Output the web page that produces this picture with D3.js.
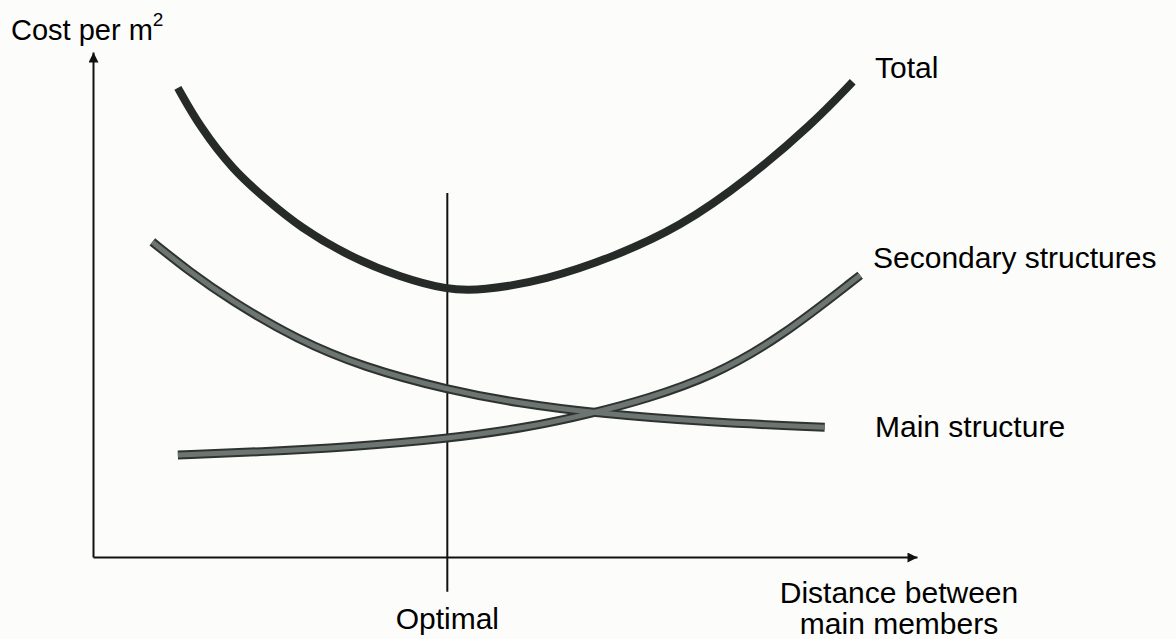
<!DOCTYPE html>
<html>
<head>
<meta charset="utf-8">
<script src="https://cdn.jsdelivr.net/npm/d3@7"></script>
<style>
  body { margin: 0; background: #fcfcfb; }
  svg { display: block; font-family: "Liberation Sans", Arial, sans-serif; }
</style>
</head>
<body>
<svg id="drawing_region"></svg>
<script>
// values, in axis units (0..100 on both axes)
var total = [
    [10.3, 92.9], [13.0, 85.1], [17.0, 76.6], [21.1, 70.7], [25.1, 65.3],
    [31.2, 59.4], [37.3, 55.4], [43.0, 52.9], [47.0, 52.7], [55.1, 54.9],
    [63.1, 59.4], [71.2, 65.3], [79.4, 74.7], [87.4, 85.9], [92.2, 94.1]
];
var main_structure = [
    [7.2, 62.4], [11.8, 56.4], [16.6, 50.9], [24.8, 43.0], [32.8, 37.6],
    [43.0, 33.1], [51.8, 30.4], [60.7, 28.5], [75.2, 26.6], [88.8, 25.7]
];
var secondary = [
    [10.3, 20.2], [20.3, 20.8], [31.2, 21.8], [43.0, 23.4], [53.0, 25.7],
    [60.7, 28.5], [67.2, 31.3], [75.2, 35.8], [83.4, 43.4], [93.1, 55.8]
];
var optimal_x = 43.0;
var optimal_span = [-6.9, 72.1];

var labels = [
    {text: 'Total', x: 875, y: 78},
    {text: 'Secondary structures', x: 873, y: 268},
    {text: 'Main structure', x: 875, y: 437}
];

const width = 1176, height = 639;

const svg = d3.select('#drawing_region')
    .attr('width', width)
    .attr('height', height);

const xscale = d3.scaleLinear().domain([0, 100]).range([93, 917]);
const yscale = d3.scaleLinear().domain([0, 100]).range([557, 52]);

// arrow heads
const defs = svg.append('defs');
defs.append('marker')
    .attr('id', 'arrow')
    .attr('viewBox', '0 0 10 10')
    .attr('refX', 10).attr('refY', 5)
    .attr('markerUnits', 'userSpaceOnUse')
    .attr('markerWidth', 16).attr('markerHeight', 10)
    .attr('orient', 'auto')
    .append('path')
    .attr('d', 'M0,0L10,5L0,10Z')
    .attr('fill', '#111');

// axes (no ticks, just the arrowed lines)
const yaxis = d3.axisLeft(yscale).tickValues([]).tickSizeOuter(0);
const xaxis = d3.axisBottom(xscale).tickValues([]).tickSizeOuter(0);

const yg = svg.append('g').attr('transform', `translate(${xscale(0)},0)`).call(yaxis);
const xg = svg.append('g').attr('transform', `translate(0,${yscale(0)})`).call(xaxis);
yg.select('.domain').attr('stroke', '#111').attr('stroke-width', 2).attr('marker-end', 'url(#arrow)');
xg.select('.domain').attr('stroke', '#111').attr('stroke-width', 2).attr('marker-end', 'url(#arrow)');

// optimal line
svg.append('line')
    .attr('x1', xscale(optimal_x)).attr('x2', xscale(optimal_x))
    .attr('y1', yscale(optimal_span[1])).attr('y2', yscale(optimal_span[0]))
    .attr('stroke', '#111')
    .attr('stroke-width', 2);

// basis spline smooths out the reading noise
const line = d3.line()
    .x(d => xscale(d[0]))
    .y(d => yscale(d[1]))
    .curve(d3.curveBasis);

// grey curves: dark outline + grey core
[main_structure, secondary].forEach(function(s) {
    svg.append('path').attr('d', line(s))
        .attr('fill', 'none').attr('stroke', '#2e3331')
        .attr('stroke-width', 9).attr('stroke-linecap', 'butt');
});
[main_structure, secondary].forEach(function(s) {
    svg.append('path').attr('d', line(s))
        .attr('fill', 'none').attr('stroke', '#6c7572')
        .attr('stroke-width', 5).attr('stroke-linecap', 'butt');
});

svg.append('path').attr('d', line(total))
    .attr('fill', 'none').attr('stroke', '#262b2a')
    .attr('stroke-width', 8).attr('stroke-linecap', 'butt');

// texts
const ylab = svg.append('text')
    .attr('x', 11).attr('y', 40)
    .attr('font-size', 29).attr('fill', '#000')
    .text('Cost per m');
ylab.append('tspan').attr('dy', -14).attr('font-size', 19).text('2');

svg.selectAll('.curve-label').data(labels).enter()
    .append('text')
    .attr('class', 'curve-label')
    .attr('x', d => d.x).attr('y', d => d.y)
    .attr('font-size', 30).attr('fill', '#000')
    .text(d => d.text);

svg.append('text')
    .attr('x', xscale(optimal_x)).attr('y', 629)
    .attr('text-anchor', 'middle')
    .attr('font-size', 30).attr('fill', '#000')
    .text('Optimal');

const xlab = svg.append('text')
    .attr('text-anchor', 'middle')
    .attr('font-size', 30).attr('fill', '#000');
xlab.append('tspan').attr('x', 899).attr('y', 603).text('Distance between');
xlab.append('tspan').attr('x', 899).attr('y', 634).text('main members');
</script>
</body>
</html>
